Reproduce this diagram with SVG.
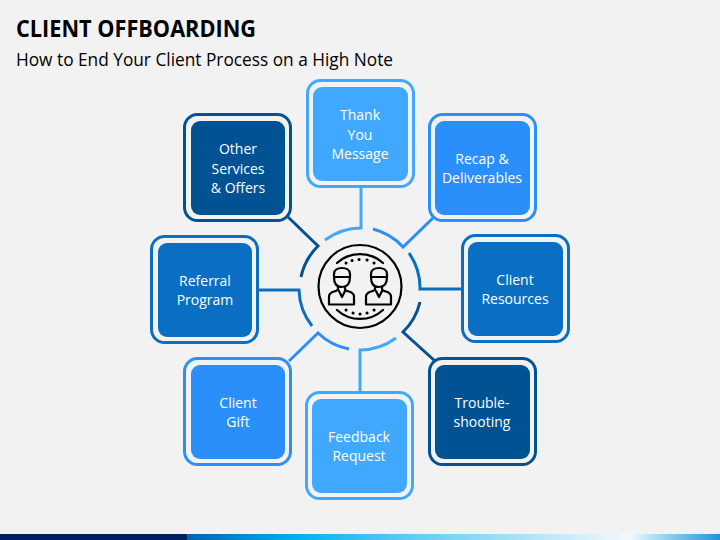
<svg xmlns="http://www.w3.org/2000/svg" width="720" height="540" viewBox="0 0 720 540">
<style>
.o{fill:none;stroke-width:3}
.i{stroke:none}
.t{font-family:"Open Sans","Liberation Sans",sans-serif;font-size:14px;fill:#fff;text-anchor:middle}
.c{fill:none;stroke-width:3}
.ic{fill:none;stroke:#000;stroke-width:2.2;stroke-linejoin:round;stroke-linecap:round}
.l{stroke:#40a9ff}.b{stroke:#2a8ffa}.m{stroke:#0a6fc2}.d{stroke:#005293}
.fl{fill:#40a9ff}.fb{fill:#2a8ffa}.fm{fill:#0a6fc2}.fd{fill:#005293}
</style>
<defs>
<linearGradient id="bar" x1="0" x2="1" y1="0" y2="0">
<stop offset="0" stop-color="#0062b0"/><stop offset="0.2" stop-color="#00aeef"/><stop offset="0.4" stop-color="#5cc8f2"/><stop offset="0.83" stop-color="#f2f9fd"/><stop offset="0.87" stop-color="#b5e3f8"/><stop offset="1" stop-color="#1f93d8"/>
</linearGradient>
<g id="person">
<path class="ic" d="M-8 -11v-3c0-8 16-8 16 0v3zM-8 -11c0 6 2 10 8 10c6 0 8-4 8-10"/>
<path class="ic" d="M-4 -1v2c0 1-2 2-4 2.500c-3 1-5 2-5 5v8h25v-8c0-3-2-4-5-5c-2-.5-4-1.500-4-2.500v-2"/>
<path class="ic" d="M-3 3l3 6l3-6"/>
</g>
</defs>
<rect width="720" height="540" fill="#f2f2f2"/>
<rect y="534" width="187" height="6" fill="#002060"/>
<rect x="187" y="534" width="533" height="6" fill="url(#bar)"/>
<text x="16" y="37" textLength="240" lengthAdjust="spacingAndGlyphs" font-family="'Open Sans',sans-serif" font-size="24" font-weight="700" fill="#000">CLIENT OFFBOARDING</text>
<text x="16" y="66" textLength="377" lengthAdjust="spacingAndGlyphs" font-family="'Open Sans',sans-serif" font-size="19" fill="#000">How to End Your Client Process on a High Note</text>
<g id="connectors">
<path class="c l" d="M325 240A61 61 0 0 1 361 228V187"/>
<path class="c b" d="M373 229A61 61 0 0 1 403 247L433 218"/>
<path class="c m" d="M409 253A61 61 0 0 1 420 289H463"/>
<path class="c d" d="M420 302A61 61 0 0 1 403 332L435 361"/>
<path class="c l" d="M396 338A61 61 0 0 1 360 350V392"/>
<path class="c b" d="M349 349A61 61 0 0 1 318 333L289 361"/>
<path class="c m" d="M312 326A61 61 0 0 1 299 290H258"/>
<path class="c d" d="M301 277A61 61 0 0 1 318 246L288 217"/>
</g>
<g id="hub">
<circle class="ic" cx="360" cy="286.500" r="41.500"/>
<path class="ic" d="M337 263A34 34 0 0 1 383 263M337 310A34 34 0 0 0 383 310"/>
<path d="M346 263h.1M352 260.500h.1M359 259.500h.1M367 260h.1M374 263h.1M346 310h.1M353 313h.1M360 314h.1M367 313h.1M374 310h.1" stroke="#000" stroke-width="3" stroke-linecap="round" fill="none"/>
<use href="#person" x="342" y="288"/>
<use href="#person" x="379" y="288"/>
</g>
<g id="node-thank-you"><rect class="o l" x="307.500" y="80.500" width="106" height="106" rx="13"/><rect class="i fl" x="313" y="87" width="95" height="94" rx="9"/><text class="t"><tspan x="360" y="120">Thank</tspan><tspan x="360" y="140">You</tspan><tspan x="360" y="159">Message</tspan></text></g>
<g id="node-recap"><rect class="o b" x="429.500" y="114.500" width="106" height="106" rx="13"/><rect class="i fb" x="435" y="121" width="95" height="94" rx="9"/><text class="t"><tspan x="482" y="164">Recap &amp;</tspan><tspan x="482" y="183">Deliverables</tspan></text></g>
<g id="node-resources"><rect class="o m" x="462.500" y="235.500" width="106" height="106" rx="13"/><rect class="i fm" x="468" y="242" width="95" height="94" rx="9"/><text class="t"><tspan x="515" y="285">Client</tspan><tspan x="515" y="304">Resources</tspan></text></g>
<g id="node-troubleshooting"><rect class="o d" x="429.500" y="358.500" width="106" height="106" rx="13"/><rect class="i fd" x="435" y="365" width="95" height="94" rx="9"/><text class="t"><tspan x="482" y="408">Trouble-</tspan><tspan x="482" y="427">shooting</tspan></text></g>
<g id="node-feedback"><rect class="o l" x="306.500" y="392.500" width="106" height="106" rx="13"/><rect class="i fl" x="312" y="399" width="95" height="94" rx="9"/><text class="t"><tspan x="359" y="442">Feedback</tspan><tspan x="359" y="461">Request</tspan></text></g>
<g id="node-gift"><rect class="o b" x="184.500" y="358.500" width="106" height="106" rx="13"/><rect class="i fb" x="191" y="365" width="94" height="94" rx="9"/><text class="t"><tspan x="238" y="408">Client</tspan><tspan x="238" y="427">Gift</tspan></text></g>
<g id="node-referral"><rect class="o m" x="151.500" y="236.500" width="106" height="106" rx="13"/><rect class="i fm" x="158" y="243" width="94" height="94" rx="9"/><text class="t"><tspan x="205" y="286">Referral</tspan><tspan x="205" y="305">Program</tspan></text></g>
<g id="node-other"><rect class="o d" x="184.500" y="114.500" width="106" height="106" rx="13"/><rect class="i fd" x="191" y="121" width="94" height="94" rx="9"/><text class="t"><tspan x="238" y="154">Other</tspan><tspan x="238" y="174">Services</tspan><tspan x="238" y="193">&amp; Offers</tspan></text></g>
</svg>
